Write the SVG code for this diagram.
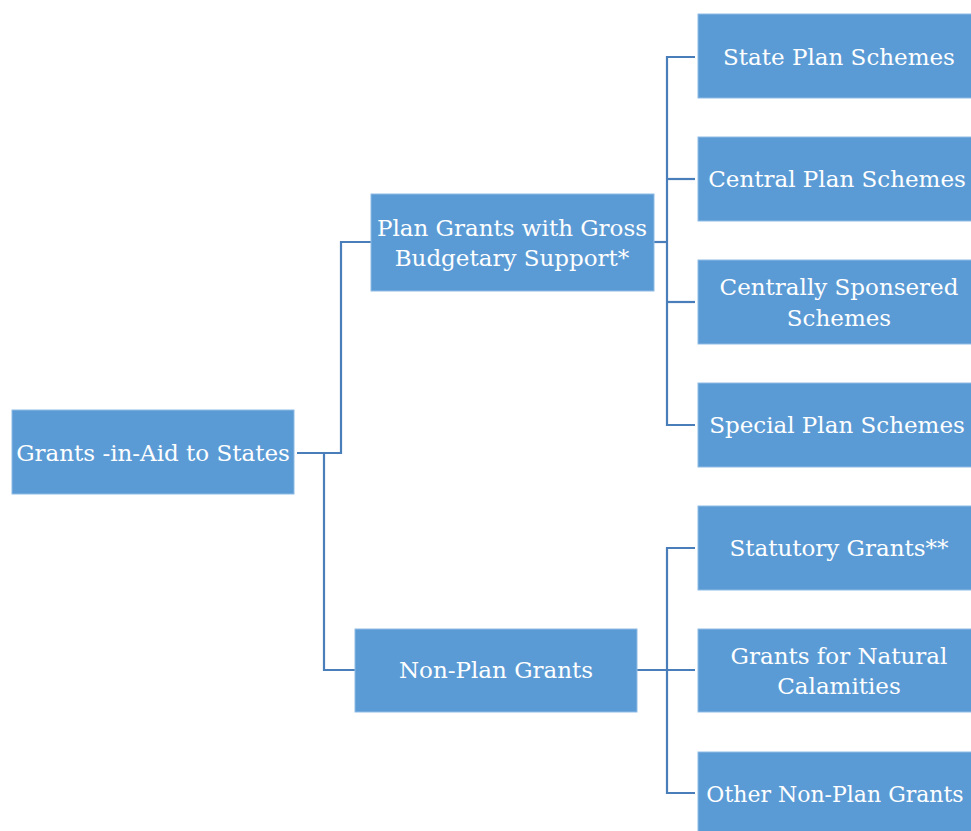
<svg xmlns="http://www.w3.org/2000/svg" width="971" height="831" viewBox="0 0 971 831">
<style>
.box{fill:#5b9bd5;stroke:#8fbbe3;stroke-width:1}
.t{font-family:'DejaVu Serif',serif;font-size:23px;fill:#ffffff;text-anchor:middle}
.c{fill:none;stroke:#4a7ebb;stroke-width:2.2}
</style>
<rect width="971" height="831" fill="#ffffff"/>
<g id="connectors">
<path class="c" d="M297 453 H341 V242 H371"/>
<path class="c" d="M324 453 V670 H355"/>
<path class="c" d="M654 242 H667"/>
<path class="c" d="M695 57 H667 V425 H695"/>
<path class="c" d="M667 179 H695"/>
<path class="c" d="M667 302 H695"/>
<path class="c" d="M637 670 H695"/>
<path class="c" d="M695 548 H667 V793 H695"/>
</g>
<g id="root"><rect class="box" x="12" y="410" width="282" height="84"/><text class="t" x="153" y="461">Grants -in-Aid to States</text></g>
<g id="plan"><rect class="box" x="371" y="194" width="283" height="97"/><text class="t" x="512" y="236">Plan Grants with Gross</text><text class="t" x="512" y="266">Budgetary Support*</text></g>
<g id="nonplan"><rect class="box" x="355" y="629" width="282" height="83"/><text class="t" x="496" y="678">Non-Plan Grants</text></g>
<g id="state"><rect class="box" x="698" y="14" width="280" height="84"/><text class="t" x="839" y="65">State Plan Schemes</text></g>
<g id="central"><rect class="box" x="698" y="137" width="280" height="84"/><text class="t" x="837" y="187">Central Plan Schemes</text></g>
<g id="css"><rect class="box" x="698" y="260" width="280" height="84"/><text class="t" x="839" y="295">Centrally Sponsered</text><text class="t" x="839" y="326">Schemes</text></g>
<g id="special"><rect class="box" x="698" y="383" width="280" height="84"/><text class="t" x="837" y="433">Special Plan Schemes</text></g>
<g id="statutory"><rect class="box" x="698" y="506" width="280" height="84"/><text class="t" x="839" y="556">Statutory Grants**</text></g>
<g id="natural"><rect class="box" x="698" y="629" width="280" height="83"/><text class="t" x="839" y="664">Grants for Natural</text><text class="t" x="839" y="694">Calamities</text></g>
<g id="other"><rect class="box" x="698" y="752" width="280" height="84"/><text class="t" x="835" y="802" style="font-size:22px">Other Non-Plan Grants</text></g>
</svg>
